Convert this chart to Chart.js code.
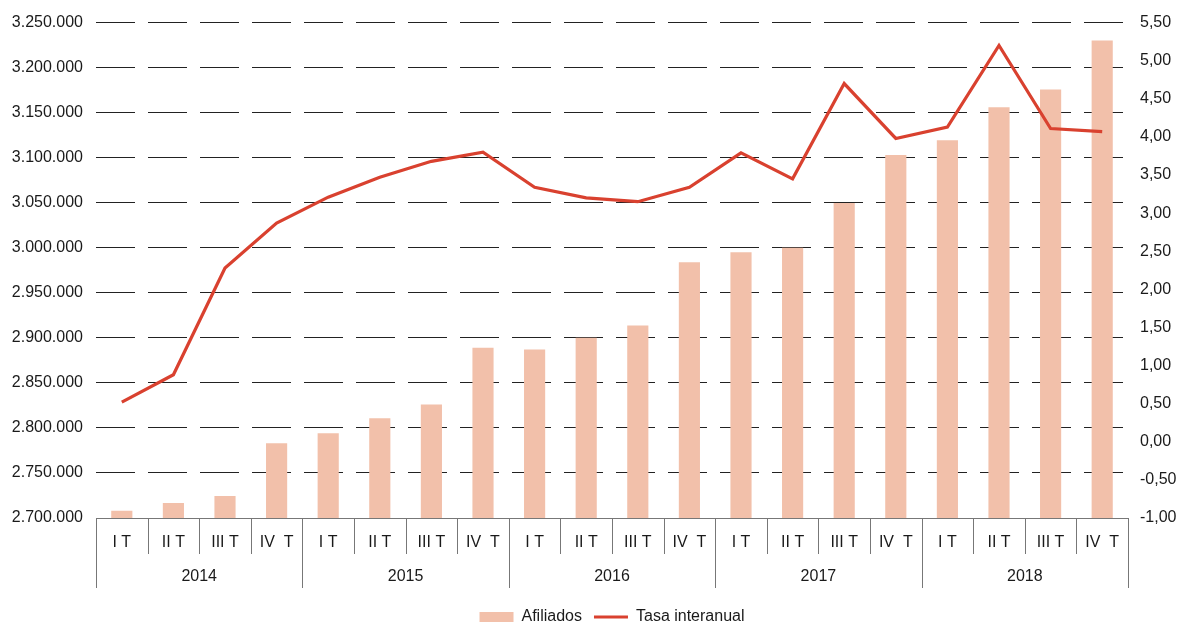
<!DOCTYPE html>
<html>
<head>
<meta charset="utf-8">
<script src="https://cdn.jsdelivr.net/npm/chart.js@4/dist/chart.umd.min.js"></script>
<style>
  html, body { margin: 0; padding: 0; background: #fff; }
  #wrap { width: 1183px; height: 623px; }
</style>
</head>
<body>
<div id="wrap"><canvas id="chart"></canvas></div>
<script>
// quarters and years for the two-level category axis
var QUARTERS = ['I T', 'II T', 'III T', 'IV  T'];
var YEARS = ['2014', '2015', '2016', '2017', '2018'];

var afiliados = [
  2708000, 2716600, 2724300, 2783000,
  2794000, 2810700, 2826000, 2889000,
  2887000, 2900000, 2913600, 2984000,
  2995000, 3000000, 3049700, 3103000,
  3119400, 3156000, 3175800, 3230000
];

var tasaInteranual = [
  0.52, 0.88, 2.28, 2.87,
  3.21, 3.47, 3.68, 3.80,
  3.34, 3.20, 3.15, 3.34,
  3.79, 3.45, 4.70, 3.98,
  4.13, 5.20, 4.11, 4.07
];

var labels = [];
YEARS.forEach(function (y) {
  QUARTERS.forEach(function (q) { labels.push(q); });
});

var BAR_COLOR = '#f2c0aa';
var LINE_COLOR = '#d9412f';
var TEXT_COLOR = '#1a1a1a';
var AXIS_COLOR = '#777777';
var FONT = { family: '"Liberation Sans", Arial, sans-serif', size: 16 };

function fmtThousands(v) {
  return String(Math.round(v)).replace(/\B(?=(\d{3})+(?!\d))/g, '.');
}

function fmtDecimal(v) {
  return v.toFixed(2).replace('.', ',');
}

// draws the quarter / year labels and separator lines under the plot
var groupedAxis = {
  id: 'groupedAxis',
  afterDraw: function (chart) {
    var ctx = chart.ctx;
    var x = chart.scales.x;
    var area = chart.chartArea;
    var step = x.getPixelForValue(1) - x.getPixelForValue(0);
    var y0 = area.bottom;

    ctx.save();
    ctx.strokeStyle = AXIS_COLOR;
    ctx.lineWidth = 1;
    for (var k = 0; k <= labels.length; k++) {
      var bx = Math.round(x.getPixelForValue(0) - step / 2 + k * step) + 0.5;
      var len = (k % 4 === 0) ? 70 : 36;
      ctx.beginPath();
      ctx.moveTo(bx, y0);
      ctx.lineTo(bx, y0 + len);
      ctx.stroke();
    }

    ctx.fillStyle = TEXT_COLOR;
    ctx.font = FONT.size + 'px ' + FONT.family;
    ctx.textAlign = 'center';
    ctx.textBaseline = 'middle';
    labels.forEach(function (lab, i) {
      ctx.fillText(lab, x.getPixelForValue(i), y0 + 25);
    });
    YEARS.forEach(function (yr, j) {
      var cx = (x.getPixelForValue(j * 4) + x.getPixelForValue(j * 4 + 3)) / 2;
      ctx.fillText(yr, cx, y0 + 59);
    });
    ctx.restore();
  }
};

var ctx = document.getElementById('chart').getContext('2d');

new Chart(ctx, {
  type: 'bar',
  data: {
    labels: labels,
    datasets: [
      {
        label: 'Afiliados',
        data: afiliados,
        backgroundColor: BAR_COLOR,
        borderWidth: 0,
        barPercentage: 0.41,
        categoryPercentage: 1,
        yAxisID: 'y',
        order: 1
      },
      {
        type: 'line',
        label: 'Tasa interanual',
        data: tasaInteranual,
        borderColor: LINE_COLOR,
        backgroundColor: LINE_COLOR,
        borderWidth: 3.2,
        pointRadius: 0,
        tension: 0,
        yAxisID: 'y1',
        order: 0
      }
    ]
  },
  options: {
    responsive: true,
    maintainAspectRatio: false,
    animation: false,
    layout: { padding: { top: 21, left: 0, right: 0, bottom: -12 } },
    plugins: {
      tooltip: { enabled: false },
      legend: {
        position: 'bottom',
        fullSize: false,
        labels: {
          color: TEXT_COLOR,
          font: FONT,
          usePointStyle: true,
          pointStyleWidth: 34,
          boxHeight: 10,
          padding: 12,
          sort: function (a, b) { return a.datasetIndex - b.datasetIndex; },
          generateLabels: function (chart) {
            var items = Chart.defaults.plugins.legend.labels.generateLabels(chart);
            items.forEach(function (it) {
              if (it.datasetIndex === 0) {
                it.pointStyle = 'rect';
                it.fillStyle = BAR_COLOR;
                it.strokeStyle = BAR_COLOR;
                it.lineWidth = 0;
              } else {
                it.pointStyle = 'line';
                it.strokeStyle = LINE_COLOR;
                it.lineWidth = 3;
              }
            });
            return items;
          }
        }
      }
    },
    scales: {
      x: {
        ticks: { display: false },
        grid: { display: false, drawTicks: false },
        border: { display: true, color: AXIS_COLOR },
        afterFit: function (s) { s.height = 79; }
      },
      y: {
        position: 'left',
        min: 2700000,
        max: 3250000,
        ticks: {
          stepSize: 50000,
          color: TEXT_COLOR,
          font: FONT,
          padding: 13,
          callback: function (v) { return fmtThousands(v); }
        },
        grid: { color: '#222222', lineWidth: 1, drawTicks: false },
        border: { display: false, dash: [39, 13] },
        afterFit: function (s) { s.width = 96; }
      },
      y1: {
        position: 'right',
        min: -1,
        max: 5.5,
        ticks: {
          stepSize: 0.5,
          color: TEXT_COLOR,
          font: FONT,
          padding: 12,
          callback: function (v) { return fmtDecimal(v); }
        },
        grid: { display: false, drawTicks: false },
        border: { display: false },
        afterFit: function (s) { s.width = 55; }
      }
    }
  },
  plugins: [groupedAxis]
});
</script>
</body>
</html>
